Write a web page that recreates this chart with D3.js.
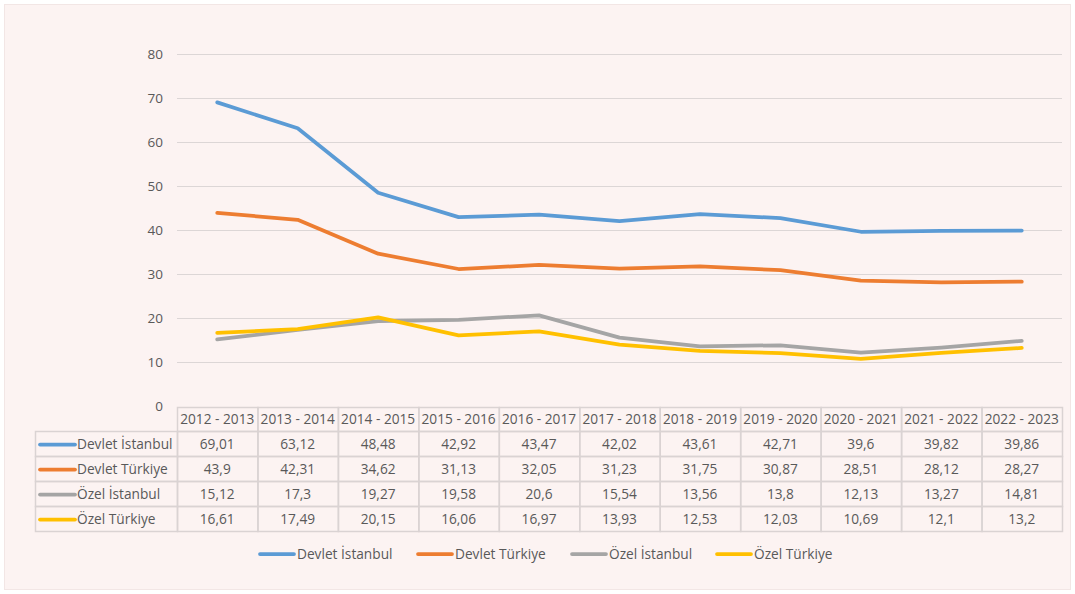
<!DOCTYPE html>
<html>
<head>
<meta charset="utf-8">
<script src="https://cdn.jsdelivr.net/npm/d3@7"></script>
<style>
  body { margin: 0; background: #fff; }
  svg { display: block; }
  text { font-family: "Open Sans", "Noto Sans", sans-serif; fill: #595959; }
</style>
</head>
<body>
<svg width="1075" height="594"></svg>
<script>
const years = ['2012 - 2013', '2013 - 2014', '2014 - 2015', '2015 - 2016', '2016 - 2017', '2017 - 2018',
  '2018 - 2019', '2019 - 2020', '2020 - 2021', '2021 - 2022', '2022 - 2023'];
const seriesNames = ['Devlet İstanbul', 'Devlet Türkiye', 'Özel İstanbul', 'Özel Türkiye'];
const devletIstanbul = [69.01, 63.12, 48.48, 42.92, 43.47, 42.02, 43.61, 42.71, 39.6, 39.82, 39.86];
const devletTurkiye = [43.9, 42.31, 34.62, 31.13, 32.05, 31.23, 31.75, 30.87, 28.51, 28.12, 28.27];
const ozelIstanbul = [15.12, 17.3, 19.27, 19.58, 20.6, 15.54, 13.56, 13.8, 12.13, 13.27, 14.81];
const ozelTurkiye = [16.61, 17.49, 20.15, 16.06, 16.97, 13.93, 12.53, 12.03, 10.69, 12.1, 13.2];
const yTicks = [0, 10, 20, 30, 40, 50, 60, 70, 80];
const colors = ['#5b9bd5', '#ed7d31', '#a5a5a5', '#ffc000'];

const seriesData = [devletIstanbul, devletTurkiye, ozelIstanbul, ozelTurkiye];
const fmt = v => String(v).replace('.', ',');

const plot = {left: 177, right: 1062, top: 54, bottom: 406};
const tableLeft = 35;
const headerH = 24, rowH = 25;
const tableFont = 13.7;

const svg = d3.select('svg');
svg.append('rect')
  .attr('x', 4.5).attr('y', 4.5).attr('width', 1066).attr('height', 585)
  .attr('fill', '#fcf3f2').attr('stroke', '#f2e6e5');

const xScale = d3.scaleBand().domain(years).range([plot.left, plot.right]);
const yScale = d3.scaleLinear().domain([0, 80]).range([plot.bottom, plot.top]);

// gridlines
svg.append('g')
  .selectAll('line')
  .data(yTicks.filter(t => t > 0))
  .enter()
  .append('line')
  .attr('x1', plot.left).attr('x2', plot.right)
  .attr('y1', d => yScale(d) + 0.5).attr('y2', d => yScale(d) + 0.5)
  .attr('stroke', '#dcd6d6').attr('stroke-width', 1);

const yAxis = svg.append('g')
  .attr('transform', `translate(${plot.left - 14}, 0)`)
  .call(d3.axisLeft(yScale).tickValues(yTicks).tickSize(0).tickPadding(0));
yAxis.select('.domain').remove();
yAxis.selectAll('text')
  .attr('font-size', 13.5)
  .attr('font-family', '"Open Sans", sans-serif')
  .attr('fill', '#595959');

// lines
const line = d3.line()
  .x((d, i) => xScale(years[i]) + xScale.bandwidth() / 2)
  .y(d => yScale(d));

svg.append('g')
  .selectAll('path')
  .data(seriesData)
  .enter()
  .append('path')
  .attr('d', d => line(d))
  .attr('fill', 'none')
  .attr('stroke', (d, i) => colors[i])
  .attr('stroke-width', 3.75)
  .attr('stroke-linejoin', 'round')
  .attr('stroke-linecap', 'round');

// data table
const table = svg.append('g');
const gridColor = '#dad3d3';
const tableTop = plot.bottom + 1;
const bodyTop = tableTop + headerH;

// header cells
table.selectAll('.hcell')
  .data(years)
  .enter()
  .append('rect')
  .classed('hcell', true)
  .attr('x', d => xScale(d) + 0.5)
  .attr('y', tableTop + 0.5)
  .attr('width', xScale.bandwidth())
  .attr('height', headerH)
  .attr('fill', 'none')
  .attr('stroke', gridColor)
  .attr('stroke-width', 1.5);

table.selectAll('.htext')
  .data(years)
  .enter()
  .append('text')
  .attr('x', d => xScale(d) + xScale.bandwidth() / 2)
  .attr('y', tableTop + headerH / 2 + 5)
  .attr('text-anchor', 'middle')
  .attr('font-size', tableFont)
  .text(d => d);

// body rows
const rows = table.selectAll('.row')
  .data(seriesNames)
  .enter()
  .append('g')
  .attr('transform', (d, i) => `translate(0, ${bodyTop + i * rowH})`);

rows.append('rect')
  .attr('x', tableLeft + 0.5).attr('y', 0.5)
  .attr('width', plot.left - tableLeft).attr('height', rowH)
  .attr('fill', 'none').attr('stroke', gridColor).attr('stroke-width', 1.5);

rows.append('line')
  .attr('x1', tableLeft + 5).attr('x2', tableLeft + 40)
  .attr('y1', rowH / 2 + 1).attr('y2', rowH / 2 + 1)
  .attr('stroke', (d, i) => colors[i]).attr('stroke-width', 3.75)
  .attr('stroke-linecap', 'round');

rows.append('text')
  .attr('x', tableLeft + 42)
  .attr('y', rowH / 2 + 5)
  .attr('font-size', tableFont)
  .text(d => d);

rows.each(function (name, si) {
  const g = d3.select(this);
  g.selectAll('rect.cell')
    .data(seriesData[si])
    .enter()
    .append('rect')
    .classed('cell', true)
    .attr('x', (d, i) => xScale(years[i]) + 0.5)
    .attr('y', 0.5)
    .attr('width', xScale.bandwidth())
    .attr('height', rowH)
    .attr('fill', 'none')
    .attr('stroke', gridColor)
    .attr('stroke-width', 1.5);
  g.selectAll('text.val')
    .data(seriesData[si])
    .enter()
    .append('text')
    .classed('val', true)
    .attr('x', (d, i) => xScale(years[i]) + xScale.bandwidth() / 2)
    .attr('y', rowH / 2 + 5)
    .attr('text-anchor', 'middle')
    .attr('font-size', tableFont)
    .text(d => fmt(d));
});

// legend
const legendX = [259, 417, 571, 716];
const legend = svg.append('g')
  .selectAll('g')
  .data(seriesNames)
  .enter()
  .append('g')
  .attr('transform', (d, i) => `translate(${legendX[i]}, 554)`);

legend.append('line')
  .attr('x1', 1).attr('x2', 35)
  .attr('stroke', (d, i) => colors[i]).attr('stroke-width', 3.75)
  .attr('stroke-linecap', 'round');

legend.append('text')
  .attr('x', 38).attr('y', 5)
  .attr('font-size', tableFont)
  .text(d => d);
</script>
</body>
</html>
